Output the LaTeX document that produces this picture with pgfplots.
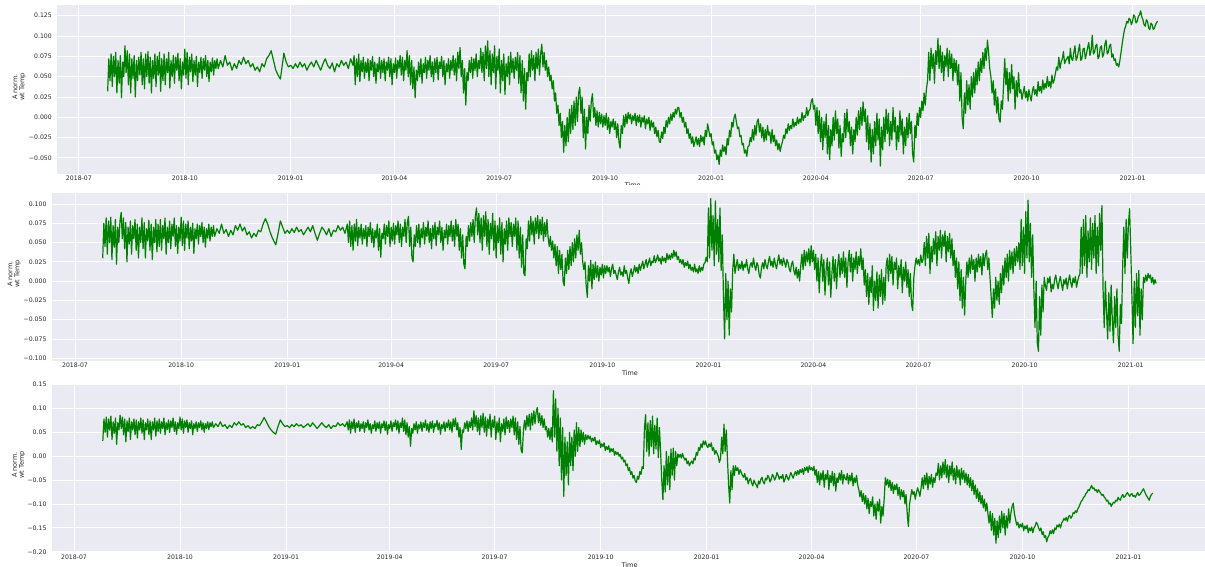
\documentclass[border=0pt]{standalone}
\usepackage{fontspec}
\setmainfont{DejaVu Sans}
\usepackage{pgfplots}
\pgfplotsset{compat=1.18}
\definecolor{bg}{HTML}{EAEAF2}
\definecolor{lab}{HTML}{262626}
\definecolor{series}{HTML}{008000}

\pgfplotsset{
  darkgrid/.style={
    scale only axis,
    anchor=south west,
    axis background/.style={fill=bg},
    axis line style={draw=none},
    xmajorgrids, ymajorgrids,
    major grid style={white, line width=1bp},
    major tick length=0pt,
    tick style={draw=none},
    xtick={0,92,184,274,365,457,549,640,731,823,915},
    xticklabels={2018-07,2018-10,2019-01,2019-04,2019-07,2019-10,2020-01,2020-04,2020-07,2020-10,2021-01},
    tick label style={font=\fontsize{6.2}{7}\selectfont, text=lab},
    xticklabel style={inner sep=0pt, yshift=-2bp},
    yticklabel style={inner sep=0pt, xshift=-5bp},
  },
  tsline/.style={series, line width=1.2bp, line join=round},
}
\tikzset{
  ylab/.style={rotate=90, align=center, inner sep=0pt, text=lab, font=\fontsize{6.6}{7}\selectfont},
  xlab/.style={anchor=north, inner sep=0pt, text=lab, font=\fontsize{6.5}{7}\selectfont},
}

\begin{document}
\begin{tikzpicture}
\path[use as bounding box] (0bp,0bp) rectangle (1205bp,567bp);
\clip (0bp,0bp) rectangle (1205bp,567bp);

% ---------------- top panel ----------------
\begin{axis}[darkgrid, at={(57bp,393bp)}, width=1151.5bp, height=169bp,
  xmin=-19, xmax=981, ymin=-0.0697, ymax=0.1382,
  ytick={-0.05,-0.025,0,0.025,0.05,0.075,0.1,0.125},
  yticklabels={−0.050,−0.025,0.000,0.025,0.050,0.075,0.100,0.125}]
\addplot[tsline] coordinates {
(25,.032)(26,.072)(27,.045)(28,.078)(29,.038)(30,.075)(31,.050)(32,.080)(33,.030)(34,.070)(35,.042)(36,.076)(37,.024)(38,.068)(39,.050)(40,.088)(41,.055)(42,.082)(43,.040)(44,.078)(45,.030)(46,.072)(47,.048)(48,.076)(49,.025)(50,.070)(51,.045)(52,.074)(53,.052)(54,.080)(55,.040)(56,.072)(57,.035)(58,.078)(59,.050)(60,.081)(61,.042)(62,.074)(63,.030)(64,.070)(65,.048)(66,.078)(67,.038)(68,.075)(69,.052)(70,.080)(71,.032)(72,.072)
(73,.045)(74,.078)(75,.040)(76,.072)(77,.055)(78,.080)(79,.036)(80,.070)(81,.050)(82,.076)(83,.042)(84,.074)(85,.058)(86,.079)(87,.045)(88,.072)(89,.035)(90,.068)(91,.052)(92,.084)(93,.048)(94,.080)(95,.040)(96,.074)(97,.056)(98,.078)(99,.044)(100,.070)(101,.052)(102,.075)(103,.038)(104,.068)(105,.055)(106,.074)(107,.048)(108,.072)(109,.058)(110,.076)(111,.050)(112,.070)(113,.044)(114,.068)(115,.056)(116,.073)(117,.052)(118,.070)(119,.060)(120,.072)
(121,.060)(123,.070)(125,.062)(127,.076)(129,.064)(131,.068)(133,.058)(135,.066)(137,.060)(139,.070)(141,.065)(143,.074)(145,.066)(147,.070)(149,.062)(151,.066)(153,.058)(155,.062)(157,.056)(159,.066)(161,.062)(163,.072)(165,.076)(167,.082)(169,.070)(171,.058)(173,.052)(175,.047)(177,.068)(178,.079)(180,.068)(182,.062)(184,.064)
(186,.060)(188,.066)(190,.061)(192,.068)(194,.062)(196,.066)(198,.058)(200,.064)(202,.068)(204,.062)(206,.070)(208,.064)(210,.058)(212,.066)(214,.072)(216,.064)(218,.060)(220,.067)(222,.056)(224,.066)(226,.062)(228,.070)(230,.064)(232,.068)(234,.060)(236,.072)(238,.064)
(239,.076)(240,.040)(241,.072)(242,.050)(243,.078)(244,.044)(245,.070)(246,.056)(247,.074)(248,.048)(249,.068)(250,.055)(251,.072)(252,.045)(253,.070)(254,.058)(255,.075)(256,.050)(257,.068)(258,.042)(259,.066)(260,.056)(261,.074)(262,.048)(263,.070)(264,.055)(265,.072)(266,.045)(267,.068)(268,.058)(269,.074)(270,.050)(271,.072)(272,.040)(273,.066)(274,.055)(275,.073)(276,.048)(277,.070)(278,.060)(279,.076)(280,.052)(281,.074)(282,.045)(283,.070)(284,.058)(285,.082)(286,.050)(287,.076)(288,.040)(289,.070)(290,.035)(291,.062)(292,.024)(293,.058)(294,.045)(295,.068)(296,.050)(297,.072)(298,.042)(299,.066)(300,.055)
(301,.074)(302,.048)(303,.070)(304,.058)(305,.076)(306,.050)(307,.068)(308,.044)(309,.072)(310,.055)(311,.074)(312,.046)(313,.068)(314,.060)(315,.075)(316,.050)(317,.070)(318,.040)(319,.066)(320,.056)(321,.072)(322,.048)(323,.070)(324,.058)(325,.076)(326,.052)(327,.072)(328,.045)(329,.080)(330,.060)(331,.086)(332,.050)(333,.070)(334,.030)(335,.060)(336,.015)(337,.055)(338,.045)(339,.070)(340,.055)(341,.074)(342,.048)(343,.072)(344,.058)(345,.078)(346,.050)(347,.070)(348,.060)(349,.085)(350,.055)
(351,.080)(352,.045)(353,.088)(354,.060)(355,.094)(356,.050)(357,.082)(358,.040)(359,.078)(360,.055)(361,.088)(362,.035)(363,.075)(364,.058)(365,.084)(366,.030)(367,.070)(368,.045)(369,.078)(370,.028)(371,.066)(372,.050)(373,.075)(374,.040)(375,.080)(376,.055)(377,.072)(378,.048)(379,.074)(380,.058)(381,.080)(382,.042)(383,.076)(384,.030)(385,.070)(386,.020)(387,.060)(388,.010)(389,.055)(390,.045)(391,.078)(392,.050)(393,.082)(394,.058)(395,.076)(396,.045)(397,.080)(398,.060)(399,.084)(400,.052)(401,.078)(402,.090)(403,.062)(404,.080)(405,.058)(406,.070)
(407,.050)(408,.062)(409,.045)(410,.052)(411,.035)(412,.045)(413,.020)(414,.030)(415,.005)(416,.015)(417,-.010)(418,.005)(419,-.025)(420,-.005)(421,-.043)(422,-.010)(423,-.035)(424,.000)(425,-.030)(426,.010)(427,-.020)(428,.015)(429,-.015)(430,.020)(431,-.010)(432,.025)(433,-.005)(434,.030)(435,.037)(436,.005)(437,.025)(438,-.025)(439,.010)(440,-.039)(441,.000)(442,-.020)(443,.015)(444,-.005)(445,.020)(446,.029)(447,.000)(448,.012)(449,-.010)(450,.008)(451,-.012)(452,.006)(453,-.008)(454,.004)(455,-.012)(456,.002)(457,-.010)(458,.005)(459,-.015)(460,.000)(461,-.020)(462,-.005)(463,-.012)(464,-.002)(465,-.015)(466,-.005)(467,-.025)(468,-.008)(469,-.030)(470,-.038)(471,-.010)(472,-.020)(473,.002)(474,-.012)(475,.004)(476,-.008)
(477,.006)(478,-.002)(479,.004)(480,-.008)(481,.002)(482,-.004)(483,.005)(484,-.010)(485,.002)(486,-.006)(487,.003)(488,-.012)(489,.000)(490,-.006)(491,.002)(492,-.014)(493,-.002)(494,-.008)(495,.000)(496,-.016)(497,-.004)(498,-.012)(499,-.006)(500,-.020)(501,-.012)(502,-.024)(503,-.016)(504,-.030)(505,-.031)(506,-.018)(507,-.026)(508,-.012)(509,-.020)(510,-.004)(511,-.012)(512,.000)(513,-.008)(514,.004)(515,-.004)(516,.006)(517,.000)(518,.010)(519,.004)(520,.012)(521,.012)(522,.000)(523,.006)(524,-.006)(525,.000)(526,-.012)(527,-.006)(528,-.020)(529,-.014)(530,-.026)(531,-.020)(532,-.032)(533,-.024)(534,-.036)(535,-.030)(536,-.024)(537,-.034)(538,-.026)(539,-.036)(540,-.022)(541,-.030)(542,-.024)(543,-.034)(544,-.016)(545,-.024)(546,-.008)
(547,-.016)(548,-.024)(549,-.020)(550,-.034)(551,-.030)(552,-.044)(553,-.040)(554,-.052)(555,-.046)(556,-.058)(557,-.040)(558,-.048)(559,-.034)(560,-.042)(561,-.036)(562,-.046)(563,-.026)(564,-.034)(565,-.016)(566,-.024)(567,-.006)(568,-.012)(569,.000)(570,.004)(571,-.006)(572,-.014)(573,-.012)(574,-.024)(575,-.022)(576,-.034)(577,-.032)(578,-.044)(579,-.040)(580,-.048)(581,-.036)(582,-.035)
(583,-.025)(584,-.030)(585,-.015)(586,-.028)(587,-.010)(588,-.022)(589,-.005)(590,-.002)(591,-.018)(592,-.008)(593,-.025)(594,-.012)(595,-.030)(596,-.015)(597,-.028)(598,-.010)(599,-.022)(600,-.018)(601,-.032)(602,-.015)(603,-.030)(604,-.022)(605,-.035)(606,-.028)(607,-.040)(608,-.032)(609,-.042)(610,-.035)(611,-.030)(612,-.022)(613,-.026)(614,-.014)(615,-.020)(616,-.008)(617,-.016)(618,-.010)(619,-.014)(620,-.002)(621,-.012)(622,-.006)(623,-.010)(624,.000)(625,-.008)(626,-.002)(627,-.006)(628,.006)(629,-.004)(630,.002)(631,.000)(632,.012)(633,.002)(634,.008)(635,.010)(636,.020)(637,.023)(638,.010)
(639,.015)(640,-.010)(641,.012)(642,-.020)(643,.008)(644,-.030)(645,.000)(646,-.040)(647,-.005)(648,-.025)(649,.004)(650,-.045)(651,-.010)(652,-.052)(653,-.015)(654,-.035)(655,.000)(656,-.028)(657,.008)(658,-.020)(659,-.002)(660,-.038)(661,-.010)(662,-.048)(663,-.020)(664,-.030)(665,.005)(666,-.025)(667,.010)(668,-.018)(669,-.005)(670,-.035)(671,-.012)(672,-.045)(673,-.015)(674,-.030)(675,.000)(676,-.022)(677,.008)(678,-.015)(679,.012)(680,-.010)(681,.019)(682,-.005)(683,.010)(684,-.030)(685,.002)(686,-.040)(687,-.008)(688,-.055)(689,-.015)(690,-.045)(691,-.005)(692,-.035)(693,.005)(694,-.028)(695,-.002)(696,-.060)(697,-.012)(698,-.040)(699,.000)(700,-.030)
(701,.010)(702,-.020)(703,.005)(704,-.035)(705,-.005)(706,-.028)(707,.012)(708,-.018)(709,.000)(710,-.040)(711,-.010)(712,-.030)(713,.008)(714,-.022)(715,-.002)(716,-.045)(717,-.012)(718,-.035)(719,.000)(720,-.025)(721,.005)(722,-.020)(723,-.005)(724,-.045)(725,-.055)(726,-.010)(727,-.025)(728,.005)
(729,-.010)(730,.012)(731,.000)(732,.020)(733,.008)(734,.030)(735,.015)(736,.035)(737,.045)
(738,.080)(739,.045)(740,.085)(741,.060)(742,.078)(743,.042)(744,.082)(745,.065)(746,.097)(747,.060)(748,.088)(749,.055)(750,.080)(751,.045)(752,.076)(753,.062)(754,.085)(755,.050)(756,.082)(757,.060)(758,.078)(759,.045)(760,.072)(761,.055)(762,.070)
(763,.040)(764,.065)(765,.020)(766,.055)(767,.000)(768,-.014)(769,.030)(770,.005)(771,.045)(772,.015)(773,.040)(774,.010)(775,.050)
(776,.025)(777,.055)(778,.030)(779,.060)(780,.040)(781,.068)(782,.045)(783,.072)(784,.055)(785,.080)(786,.060)(787,.085)(788,.070)(789,.095)(790,.080)(791,.060)
(792,.050)(793,.030)(794,.045)(795,.015)(796,.035)(797,.005)(798,.025)(799,-.002)(800,-.006)(801,.020)(802,.010)(803,.040)
(804,.072)(805,.040)(806,.060)(807,.020)(808,.055)(809,.030)(810,.065)(811,.035)(812,.050)(813,.010)(814,.045)(815,.025)(816,.055)(817,.030)
(818,.034)(819,.022)(820,.030)(821,.038)(822,.024)(823,.032)(824,.020)(825,.034)(826,.026)(827,.020)(828,.032)(829,.038)(830,.028)(831,.034)(832,.026)(833,.044)(834,.032)(835,.038)(836,.030)(837,.046)(838,.034)(839,.042)(840,.036)(841,.050)(842,.038)(843,.044)(844,.036)(845,.052)(846,.042)(847,.046)(848,.054)(849,.062)(850,.058)(851,.074)(852,.060)(853,.068)(854,.072)(855,.081)(856,.066)(857,.070)
(859,.075)(860,.066)(861,.085)(862,.072)(863,.070)(864,.080)(865,.088)(866,.070)(867,.074)(868,.082)(869,.090)(870,.070)(871,.072)(872,.084)(873,.085)(874,.072)(875,.078)(876,.086)(877,.092)(878,.076)(879,.082)(880,.101)(881,.078)(882,.080)(883,.088)(884,.090)(885,.072)(886,.075)(887,.086)(888,.088)(889,.074)(890,.078)(891,.090)(892,.095)(893,.078)(894,.080)(895,.088)(896,.090)(897,.074)(898,.078)(899,.070)(900,.072)(901,.064)(902,.066)(903,.062)(904,.070)(905,.080)(906,.090)(907,.100)(908,.108)(909,.112)(910,.118)(911,.116)(912,.122)(913,.120)(914,.114)(915,.118)(916,.126)(917,.124)(918,.116)(919,.118)(920,.124)(921,.126)(922,.131)(923,.124)(924,.120)(925,.114)(926,.112)(927,.120)(928,.118)(929,.110)(930,.108)(931,.116)(932,.114)(933,.108)(934,.110)(935,.114)(936,.117)(937,.118)
};
\end{axis}

% ---------------- middle panel ----------------
\begin{axis}[darkgrid, at={(51.7bp,206bp)}, width=1156.8bp, height=167.7bp,
  xmin=-20.2, xmax=982.4, ymin=-0.1035, ymax=0.1139,
  ytick={-0.1,-0.075,-0.05,-0.025,0,0.025,0.05,0.075,0.1},
  yticklabels={−0.100,−0.075,−0.050,−0.025,0.000,0.025,0.050,0.075,0.100}]
\addplot[tsline] coordinates {
(24,.030)(25,.075)(26,.045)(27,.082)(28,.035)(29,.078)(30,.050)(31,.083)(32,.028)(33,.072)(34,.044)(35,.080)(36,.022)(37,.070)(38,.050)(39,.078)(40,.089)(41,.055)(42,.082)(43,.042)(44,.076)(45,.025)(46,.070)(47,.048)(48,.078)(49,.035)(50,.072)(51,.055)(52,.080)(53,.040)(54,.074)(55,.030)(56,.070)(57,.050)(58,.082)(59,.042)(60,.076)(61,.030)(62,.068)(63,.052)(64,.079)(65,.040)(66,.074)(67,.028)(68,.070)(69,.050)(70,.080)(71,.038)(72,.074)
(73,.045)(74,.080)(75,.040)(76,.072)(77,.055)(78,.082)(79,.035)(80,.070)(81,.050)(82,.078)(83,.042)(84,.074)(85,.058)(86,.082)(87,.045)(88,.072)(89,.036)(90,.070)(91,.052)(92,.083)(93,.046)(94,.078)(95,.040)(96,.074)(97,.056)(98,.078)(99,.042)(100,.070)(101,.052)(102,.075)(103,.036)(104,.068)(105,.055)(106,.074)(107,.048)(108,.072)(109,.058)(110,.076)(111,.050)(112,.070)(113,.044)(114,.068)(115,.056)(116,.074)(117,.052)(118,.070)(119,.058)(120,.072)
(121,.058)(123,.068)(125,.062)(127,.074)(129,.062)(131,.067)(133,.058)(135,.066)(137,.060)(139,.072)(141,.066)(143,.074)(145,.065)(147,.070)(149,.060)(151,.064)(153,.056)(155,.062)(157,.058)(159,.066)(161,.064)(163,.074)(165,.081)(167,.074)(169,.064)(171,.056)(173,.050)(174,.047)(176,.062)(178,.078)(180,.070)(182,.062)(184,.066)
(186,.062)(188,.068)(190,.063)(192,.070)(194,.064)(196,.067)(198,.060)(200,.065)(202,.070)(204,.064)(206,.072)(208,.062)(210,.053)(212,.062)(214,.070)(216,.066)(218,.060)(220,.068)(222,.058)(224,.066)(226,.064)(228,.072)(230,.066)(232,.070)(234,.062)(236,.074)
(237,.050)(238,.078)(239,.045)(240,.072)(241,.040)(242,.074)(243,.052)(244,.080)(245,.046)(246,.070)(247,.056)(248,.074)(249,.048)(250,.068)(251,.055)(252,.072)(253,.045)(254,.070)(255,.058)(256,.076)(257,.050)(258,.068)(259,.044)(260,.066)(261,.056)(262,.074)(263,.040)(264,.068)(265,.031)(266,.062)(267,.055)(268,.074)(269,.048)(270,.072)(271,.058)(272,.078)(273,.045)(274,.070)(275,.052)(276,.075)(277,.048)(278,.072)(279,.060)(280,.078)(281,.050)(282,.074)(283,.045)(284,.070)(285,.058)(286,.080)(287,.050)(288,.076)(289,.084)(290,.045)(291,.070)(292,.030)(293,.025)(294,.060)(295,.045)(296,.072)(297,.050)(298,.074)(299,.044)(300,.068)
(301,.056)(302,.076)(303,.048)(304,.070)(305,.058)(306,.078)(307,.050)(308,.068)(309,.042)(310,.072)(311,.055)(312,.076)(313,.046)(314,.070)(315,.060)(316,.078)(317,.050)(318,.070)(319,.040)(320,.066)(321,.056)(322,.074)(323,.048)(324,.072)(325,.058)(326,.078)(327,.052)(328,.072)(329,.045)(330,.080)(331,.058)(332,.074)(333,.040)(334,.068)(335,.030)(336,.060)(337,.022)(338,.016)(339,.058)(340,.045)(341,.072)(342,.052)(343,.076)(344,.058)(345,.080)(346,.050)(347,.085)
(348,.095)(349,.060)(350,.088)(351,.050)(352,.082)(353,.040)(354,.085)(355,.058)(356,.090)(357,.045)(358,.080)(359,.035)(360,.075)(361,.055)(362,.088)(363,.040)(364,.078)(365,.030)(366,.072)(367,.050)(368,.082)(369,.035)(370,.076)(371,.025)(372,.068)(373,.048)(374,.078)(375,.040)(376,.082)(377,.058)(378,.076)(379,.045)(380,.074)(381,.058)(382,.082)(383,.040)(384,.078)(385,.030)(386,.070)(387,.018)(388,.060)(389,.010)(390,.007)(391,.055)(392,.042)(393,.078)(394,.052)(395,.084)(396,.060)(397,.078)(398,.048)(399,.082)(400,.062)(401,.085)(402,.055)(403,.080)(404,.060)(405,.083)(406,.052)(407,.076)(408,.058)(409,.080)
(410,.057)(411,.045)(412,.058)(413,.040)(414,.052)(415,.030)(416,.048)(417,.020)(418,.045)(419,.010)(420,.040)(421,.015)(422,.035)(423,.000)(424,-.006)(425,.030)(426,.010)(427,.040)(428,.015)(429,.045)(430,.020)(431,.050)(432,.025)(433,.055)(434,.030)(435,.060)(436,.040)(437,.066)(438,.035)(439,.050)(440,.025)
(441,.015)(442,.025)(443,-.005)(444,-.021)(445,.020)(446,.000)(447,.027)(448,-.010)(449,.022)(450,.002)(451,.025)(452,.005)(453,.020)(454,.000)(455,.018)(456,.008)(457,.022)(458,.004)(459,.020)(460,.010)
(461,.020)(462,.012)(463,.018)(464,.006)(465,.016)(466,.022)(467,.010)(468,.014)(469,.008)(470,.002)(471,.012)(472,.018)(473,.008)(474,.012)(475,.006)(476,.020)(477,.010)(478,.014)(479,.004)(480,-.003)(481,.010)(482,.016)(483,.006)(484,.012)
(485,.020)(486,.012)(487,.018)(488,.010)(489,.022)(490,.014)(491,.020)(492,.026)(493,.016)(494,.022)(495,.028)(496,.018)(497,.024)(498,.030)(499,.020)(500,.026)(501,.024)(502,.033)(503,.024)(504,.028)(505,.034)(506,.026)(507,.030)(508,.022)(509,.032)(510,.026)(511,.030)(512,.024)(513,.036)(514,.028)(515,.034)(516,.028)(517,.036)(518,.030)(519,.040)(520,.032)(521,.038)(522,.028)(523,.032)(524,.024)(525,.028)(526,.022)(527,.028)(528,.018)(529,.024)(530,.020)(531,.026)(532,.016)(533,.022)(534,.014)(535,.018)(536,.012)(537,.022)(538,.012)(539,.016)(540,.010)(541,.020)(542,.012)(543,.018)(544,.014)(545,.022)(546,.024)(547,.031)
(548,.025)(549,.095)(550,.030)(551,.107)(552,.040)(553,.085)(554,.020)(555,.104)(556,.035)(557,.080)(558,.025)(559,.095)(560,.014)(561,.060)
(562,-.020)(563,-.075)(564,.010)(565,-.050)(566,.000)(567,-.070)(568,-.010)(569,-.040)(570,.014)(571,.035)(572,.010)
(573,.020)(574,.028)(575,.014)(576,.022)(577,.016)(578,.026)(579,.014)(580,.022)(581,.018)(582,.028)(583,.016)(584,.010)(585,.020)(586,.024)(587,.018)(588,.030)(589,.020)(590,.014)(591,.024)(592,.020)(593,.008)(594,.004)(595,.018)(596,.024)(597,.016)(598,.028)(599,.020)(600,.016)(601,.026)(602,.032)(603,.020)(604,.026)(605,.018)(606,.030)(607,.022)(608,.016)(609,.026)(610,.034)(611,.022)(612,.028)(613,.020)(614,.030)(615,.024)(616,.018)(617,.028)(618,.024)(619,.016)(620,.012)(621,.022)(622,.026)(623,.014)(624,.008)(625,.018)(626,.004)(627,.015)(628,.000)(629,.020)
(630,.035)(631,.015)(632,.040)(633,.020)(634,.038)(635,.025)(636,.042)(637,.020)(638,.046)(639,.025)(640,.040)(641,.015)(642,.035)(643,.000)(644,.030)(645,-.015)(646,.020)(647,.035)(648,.000)(649,.028)(650,-.018)(651,.015)(652,.030)
(653,-.005)(654,.025)(655,-.021)(656,.010)(657,.032)(658,.000)(659,.028)(660,-.010)(661,.020)(662,.035)(663,.005)(664,.030)
(665,.010)(666,.038)(667,.005)(668,.030)(669,-.008)(670,.025)(671,.040)(672,.012)(673,.035)(674,.000)(675,.030)(676,.015)(677,.038)(678,.010)(679,.032)(680,.020)(681,.042)(682,.015)(683,.030)(684,-.005)
(685,.015)(686,-.020)(687,.010)(688,-.030)(689,.005)(690,-.015)(691,.020)(692,-.038)(693,.000)(694,-.025)(695,.012)(696,-.035)(697,.008)(698,-.020)(699,.015)(700,-.030)(701,.005)(702,-.025)(703,.020)
(704,.030)(705,.000)(706,.035)(707,.010)(708,.032)(709,-.005)(710,.025)(711,.015)(712,.030)(713,-.010)(714,.020)(715,.005)(716,.028)(717,-.015)(718,.018)(719,.000)(720,.025)(721,-.008)(722,.015)(723,-.020)(724,.010)(725,-.030)(726,-.038)(727,.005)(728,.020)
(729,.030)(730,.022)(731,.028)(732,.020)(733,.034)(734,.024)(735,.028)
(736,.050)(737,.020)(738,.058)(739,.030)(740,.062)(741,.010)(742,.045)(743,.025)(744,.055)(745,.035)(746,.064)(747,.020)(748,.058)(749,.040)(750,.066)(751,.030)(752,.060)(753,.045)(754,.065)(755,.025)(756,.058)(757,.038)(758,.062)(759,.030)(760,.055)(761,.020)
(762,.040)(763,.005)(764,.030)(765,-.010)(766,.025)(767,-.025)(768,.015)(769,-.035)(770,.005)(771,-.044)(772,.000)
(773,.025)(774,.005)(775,.030)(776,.010)(777,.034)(778,.015)(779,.028)(780,.000)(781,.030)(782,.012)(783,.035)(784,.018)(785,.032)(786,.008)(787,.036)(788,.020)(789,.034)(790,.040)(791,.015)(792,.030)(793,.005)
(794,-.020)(795,-.047)(796,-.010)(797,-.035)(798,.005)(799,-.025)(800,.000)(801,-.030)(802,.010)(803,-.015)
(804,.020)(805,-.005)(806,.030)(807,.005)(808,.035)(809,.000)(810,.040)(811,.015)(812,.038)(813,.010)(814,.042)(815,.020)(816,.045)(817,.025)(818,.050)
(819,.015)(820,.080)(821,.020)(822,.070)(823,.010)(824,.090)(825,.030)(826,.105)(827,.025)(828,.075)(829,.005)(830,.060)
(831,-.010)(832,-.060)(833,.000)(834,-.080)(835,-.091)(836,-.020)(837,-.070)(838,-.005)(839,-.040)
(840,.005)(841,-.006)(842,-.012)(843,.004)(844,-.002)(845,.006)(846,-.014)(847,-.004)(848,-.010)(849,.002)(850,.008)(851,-.002)(852,-.010)(853,.000)(854,.006)(855,-.004)(856,-.012)(857,.002)(858,-.004)(859,.004)(860,-.010)(861,.000)(862,.008)(863,-.002)(864,-.008)(865,.004)(866,-.002)(867,.006)(868,-.008)(869,.000)(870,.006)(871,.010)
(872,.070)(873,.010)(874,.080)(875,.020)(876,.085)(877,.005)(878,.065)(879,.025)(880,.082)(881,.015)(882,.075)(883,.030)(884,.085)(885,.010)(886,.070)(887,.020)(888,.088)(889,.040)(890,.098)
(891,-.010)(892,-.060)(893,.000)(894,-.040)(895,-.075)(896,-.015)(897,-.065)(898,-.005)(899,-.050)(900,-.080)(901,-.020)(902,-.060)(903,-.010)(904,-.070)(905,-.091)(906,-.030)(907,-.055)
(908,.020)(909,.070)(910,.010)(911,.080)(912,.030)(913,.075)(914,.094)(915,.040)
(916,-.020)(917,-.081)(918,.000)(919,-.060)(920,.010)(921,-.045)(922,.014)(923,-.070)(924,-.010)(925,-.050)(926,.005)
(927,-.002)(928,.008)(929,.000)(930,.010)(931,.004)(932,.008)(933,-.002)(934,.005)(935,-.004)(936,.002)(937,-.003)
};
\end{axis}

% ---------------- bottom panel ----------------
\begin{axis}[darkgrid, at={(51.7bp,14.7bp)}, width=1156.8bp, height=168bp,
  xmin=-19.35, xmax=984.4, ymin=-0.201, ymax=0.1505,
  ytick={-0.2,-0.15,-0.1,-0.05,0,0.05,0.1,0.15},
  yticklabels={−0.20,−0.15,−0.10,−0.05,0.00,0.05,0.10,0.15}]
\addplot[tsline] coordinates {
(25,.032)(26,.078)(27,.050)(28,.082)(29,.040)(30,.078)(31,.055)(32,.084)(33,.035)(34,.072)(35,.048)(36,.080)(37,.025)(38,.070)(39,.055)(40,.086)(41,.058)(42,.082)(43,.045)(44,.078)(45,.030)(46,.074)(47,.052)(48,.080)(49,.035)(50,.072)(51,.055)(52,.078)(53,.045)(54,.076)(55,.038)(56,.072)(57,.055)(58,.080)(59,.048)(60,.076)(61,.035)(62,.070)(63,.055)(64,.078)(65,.045)(66,.074)(67,.035)(68,.072)(69,.055)(70,.080)(71,.042)(72,.074)
(73,.052)(74,.078)(75,.048)(76,.072)(77,.058)(78,.080)(79,.045)(80,.070)(81,.056)(82,.076)(83,.050)(84,.074)(85,.060)(86,.080)(87,.052)(88,.072)(89,.046)(90,.070)(91,.058)(92,.082)(93,.055)(94,.078)(95,.048)(96,.074)(97,.060)(98,.076)(99,.050)(100,.070)(101,.058)(102,.074)(103,.045)(104,.068)(105,.058)(106,.072)(107,.052)(108,.070)(109,.060)(110,.074)(111,.055)(112,.070)(113,.050)(114,.068)(115,.058)(116,.072)(117,.056)(118,.070)(119,.062)(120,.072)
(121,.060)(123,.068)(125,.062)(127,.072)(129,.062)(131,.066)(133,.058)(135,.065)(137,.060)(139,.070)(141,.065)(143,.072)(145,.065)(147,.068)(149,.060)(151,.064)(153,.058)(155,.062)(157,.058)(159,.066)(161,.064)(163,.072)(165,.081)(167,.072)(169,.062)(171,.055)(173,.050)(175,.046)(177,.062)(179,.076)(181,.068)(183,.062)
(185,.064)(187,.060)(189,.066)(191,.062)(193,.068)(195,.063)(197,.066)(199,.060)(201,.064)(203,.068)(205,.062)(207,.070)(209,.064)(211,.058)(213,.064)(215,.070)(217,.064)(219,.060)(221,.066)(223,.058)(225,.064)(227,.062)(229,.070)(231,.064)(233,.068)(235,.062)(237,.072)
(238,.055)(239,.076)(240,.048)(241,.072)(242,.058)(243,.078)(244,.050)(245,.070)(246,.060)(247,.074)(248,.052)(249,.068)(250,.058)(251,.072)(252,.050)(253,.070)(254,.060)(255,.076)(256,.055)(257,.068)(258,.048)(259,.066)(260,.058)(261,.074)(262,.052)(263,.070)(264,.058)(265,.072)(266,.048)(267,.068)(268,.060)(269,.074)(270,.054)(271,.072)(272,.046)(273,.066)(274,.058)(275,.074)(276,.052)(277,.070)(278,.062)(279,.076)(280,.055)(281,.074)(282,.048)(283,.070)(284,.060)(285,.080)(286,.052)(287,.076)(288,.045)(289,.070)(290,.040)(291,.062)(292,.021)(293,.058)(294,.048)(295,.068)(296,.055)(297,.072)(298,.048)(299,.066)(300,.058)
(301,.072)(302,.052)(303,.070)(304,.060)(305,.076)(306,.054)(307,.068)(308,.050)(309,.072)(310,.058)(311,.074)(312,.050)(313,.068)(314,.062)(315,.075)(316,.055)(317,.070)(318,.046)(319,.066)(320,.058)(321,.072)(322,.052)(323,.070)(324,.060)(325,.076)(326,.055)(327,.072)(328,.050)(329,.078)(330,.062)(331,.080)(332,.055)(333,.070)(334,.040)(335,.060)(336,.014)(337,.055)(338,.050)(339,.070)(340,.058)(341,.074)(342,.052)(343,.072)(344,.060)(345,.080)(346,.055)
(347,.095)(348,.062)(349,.085)(350,.052)(351,.080)(352,.045)(353,.085)(354,.060)(355,.090)(356,.050)(357,.082)(358,.042)(359,.078)(360,.058)(361,.088)(362,.040)(363,.076)(364,.060)(365,.084)(366,.035)(367,.072)(368,.050)(369,.080)(370,.030)(371,.068)(372,.052)(373,.078)(374,.045)(375,.082)(376,.058)(377,.075)(378,.050)(379,.078)(380,.060)(381,.084)(382,.045)(383,.080)(384,.035)(385,.072)(386,.025)(387,.062)(388,.012)(389,.007)(390,.055)(391,.075)(392,.055)(393,.085)(394,.062)(395,.088)(396,.055)(397,.090)(398,.065)(399,.095)(400,.068)(401,.092)(402,.102)(403,.070)(404,.090)(405,.065)(406,.085)(407,.060)(408,.078)(409,.055)
(410,.062)(411,.040)(412,.058)(413,.035)(414,.060)(415,.030)
(416,.137)(417,.040)(418,.120)(419,.010)(420,.100)(421,-.020)(422,.080)(423,-.050)(424,.060)(425,-.084)(426,.040)(427,-.040)(428,.030)(429,-.060)(430,.050)
(431,-.020)(432,.040)(433,-.030)(434,.055)(435,.000)(436,.070)(437,.010)(438,.060)(439,.020)(440,.055)(441,.030)(442,.050)(443,.025)(444,.045)(445,.035)
(446,.044)(447,.036)(448,.042)(449,.030)(450,.038)(451,.032)(452,.040)(453,.024)(454,.032)(455,.026)(456,.034)(457,.018)(458,.026)(459,.020)(460,.028)(461,.012)(462,.020)(463,.014)(464,.022)(465,.008)(466,.016)(467,.010)(468,.016)(469,.002)(470,.010)(471,.004)(472,.008)
(473,.000)(474,.004)(475,-.006)(476,-.002)(477,-.012)(478,-.008)(479,-.020)(480,-.016)(481,-.030)(482,-.024)(483,-.038)(484,-.032)(485,-.046)(486,-.040)(487,-.052)(488,-.055)(489,-.042)(490,-.048)(491,-.032)(492,-.038)(493,-.022)(494,-.026)
(495,.060)(496,.087)(497,.010)(498,.070)(499,.000)(500,.075)(501,.020)(502,.084)(503,.005)(504,.065)(505,.015)(506,.080)(507,-.003)(508,.060)(509,.010)
(510,-.050)(511,-.091)(512,-.020)(513,-.075)(514,.010)(515,-.060)(516,.000)(517,-.070)(518,.015)(519,-.040)(520,.017)(521,-.050)(522,.010)(523,-.020)
(524,.005)(525,-.002)(526,.004)(527,-.004)(528,.006)(529,-.002)(530,-.008)(531,-.004)(532,-.016)(533,-.010)(534,-.020)(535,-.014)(536,-.010)(537,-.016)(538,-.004)(539,-.008)(540,.008)(541,.002)(542,.018)(543,.012)(544,.026)(545,.018)(546,.032)(547,.024)(548,.032)(549,.022)(550,.018)(551,.026)(552,.020)(553,.028)(554,.012)(555,.018)(556,.004)(557,.012)(558,.006)(559,.000)(560,-.013)(561,-.005)
(562,.040)(563,.005)(564,.067)(565,.010)(566,.055)(567,-.005)
(568,-.060)(569,-.098)(570,-.030)(571,-.070)(572,-.020)(573,-.040)
(574,-.020)(575,-.030)(576,-.024)(577,-.038)(578,-.028)(579,-.034)(580,-.040)(581,-.044)(582,-.036)
(583,-.050)(584,-.044)(585,-.058)(586,-.050)(587,-.046)(588,-.056)(589,-.062)(590,-.050)(591,-.056)(592,-.060)(593,-.066)(594,-.052)(595,-.058)(596,-.048)(597,-.044)(598,-.054)(599,-.058)(600,-.046)(601,-.050)(602,-.040)(603,-.044)
(604,-.054)(605,-.048)(606,-.038)(607,-.042)(608,-.050)(609,-.044)(610,-.034)(611,-.040)(612,-.048)(613,-.042)(614,-.046)(615,-.038)(616,-.054)(617,-.048)(618,-.038)(619,-.044)(620,-.050)(621,-.042)(622,-.034)(623,-.040)(624,-.046)(625,-.038)
(626,-.032)(627,-.040)(628,-.030)(629,-.038)(630,-.028)(631,-.034)(632,-.026)(633,-.038)(634,-.024)(635,-.030)(636,-.022)(637,-.034)(638,-.020)(639,-.028)(640,-.024)(641,-.030)(642,-.021)
(643,-.040)(644,-.028)(645,-.055)(646,-.032)(647,-.060)(648,-.035)(649,-.050)(650,-.030)(651,-.065)(652,-.038)(653,-.048)(654,-.030)(655,-.070)(656,-.040)(657,-.055)(658,-.032)(659,-.062)(660,-.036)(661,-.073)(662,-.045)(663,-.055)(664,-.035)(665,-.050)(666,-.030)(667,-.058)(668,-.038)
(669,-.046)(670,-.050)(671,-.036)(672,-.058)(673,-.040)(674,-.052)(675,-.035)(676,-.062)(677,-.045)(678,-.055)(679,-.040)(680,-.060)
(681,-.070)(682,-.085)(683,-.072)(684,-.095)(685,-.078)(686,-.100)(687,-.082)(688,-.110)(689,-.088)(690,-.120)(691,-.095)(692,-.105)(693,-.085)(694,-.125)(695,-.100)(696,-.132)(697,-.095)(698,-.115)(699,-.090)(700,-.140)(701,-.105)(702,-.125)(703,-.090)
(704,-.045)(705,-.060)(706,-.048)(707,-.065)(708,-.050)(709,-.072)(710,-.055)(711,-.078)(712,-.060)(713,-.070)(714,-.058)(715,-.082)(716,-.065)(717,-.090)(718,-.070)(719,-.085)(720,-.072)(721,-.100)(722,-.080)(723,-.120)(724,-.147)(725,-.100)(726,-.085)
(727,-.070)(728,-.080)(729,-.074)(730,-.090)(731,-.076)(732,-.066)(733,-.074)(734,-.084)(735,-.067)
(736,-.045)(737,-.068)(738,-.040)(739,-.060)(740,-.035)(741,-.070)(742,-.042)(743,-.058)(744,-.038)(745,-.065)(746,-.045)(747,-.055)(748,-.035)
(749,-.040)(750,-.015)(751,-.050)(752,-.020)(753,-.045)(754,-.012)(755,-.038)(756,-.007)(757,-.045)(758,-.018)(759,-.055)(760,-.020)(761,-.040)(762,-.012)(763,-.050)(764,-.025)(765,-.058)(766,-.020)(767,-.045)(768,-.028)(769,-.060)(770,-.025)(771,-.048)(772,-.030)(773,-.055)(774,-.035)
(775,-.060)(776,-.038)(777,-.065)(778,-.045)(779,-.072)(780,-.050)(781,-.080)(782,-.060)(783,-.088)(784,-.068)(785,-.095)(786,-.075)(787,-.100)(788,-.082)(789,-.108)(790,-.090)(791,-.115)(792,-.098)(793,-.120)
(794,-.140)(795,-.115)(796,-.155)(797,-.120)(798,-.165)(799,-.130)(800,-.182)(801,-.135)(802,-.170)(803,-.125)(804,-.160)(805,-.115)(806,-.150)(807,-.120)(808,-.165)(809,-.125)(810,-.150)(811,-.110)(812,-.140)(813,-.118)
(814,-.105)(815,-.098)(816,-.120)
(817,-.132)(818,-.144)(819,-.138)(820,-.150)(821,-.142)(822,-.148)(823,-.140)(824,-.156)(825,-.146)(826,-.152)(827,-.144)(828,-.160)(829,-.150)(830,-.156)(831,-.148)(832,-.160)(833,-.150)(834,-.146)(835,-.138)(836,-.142)(837,-.150)(838,-.156)(839,-.150)(840,-.164)(841,-.158)(842,-.170)(843,-.166)(844,-.179)(845,-.170)(846,-.166)
(847,-.156)(848,-.162)(849,-.154)(850,-.162)(851,-.150)(852,-.154)(853,-.144)(854,-.148)(855,-.142)(856,-.150)(857,-.140)(858,-.136)(859,-.130)(860,-.134)(861,-.128)(862,-.136)(863,-.126)(864,-.124)(865,-.130)(866,-.126)(867,-.118)(868,-.120)(869,-.114)(870,-.118)(871,-.110)(872,-.106)
(873,-.100)(874,-.094)(875,-.092)(876,-.086)(877,-.084)(878,-.078)(879,-.076)(880,-.070)(881,-.072)(882,-.066)(883,-.061)(884,-.068)
(885,-.066)(886,-.072)(887,-.070)(888,-.076)(889,-.070)(890,-.074)(891,-.078)(892,-.082)(893,-.080)(894,-.086)(895,-.088)(896,-.094)(897,-.092)(898,-.100)(899,-.098)(900,-.105)
(901,-.100)(902,-.096)(903,-.098)(904,-.092)(905,-.094)(906,-.086)(907,-.090)(908,-.092)(909,-.084)(910,-.080)(911,-.086)(912,-.084)(913,-.080)
(914,-.076)(915,-.080)(916,-.084)(917,-.080)(918,-.078)(919,-.084)(920,-.082)(921,-.086)(922,-.080)(923,-.076)(924,-.082)(925,-.080)(926,-.076)(927,-.072)(928,-.068)(929,-.074)(930,-.080)(931,-.084)(932,-.088)(933,-.092)(934,-.084)(935,-.080)(936,-.077)
};
\end{axis}

% axis titles
\node[ylab] at (19.2bp,480bp) {A norm.\\wt Temp};
\node[ylab] at (14.2bp,293bp) {A norm.\\wt Temp};
\node[ylab] at (18.7bp,102bp) {A norm.\\wt Temp};
\node[xlab] at (632.7bp,384.6bp) {Time};
\node[xlab] at (630bp,197bp) {Time};
\node[xlab] at (629.6bp,4.3bp) {Time};
% each strip ends just below its x label
\fill[white] (560bp,373.8bp) rectangle (700bp,381.8bp);
\fill[white] (560bp,182.9bp) rectangle (700bp,191.7bp);
\end{tikzpicture}
\end{document}
